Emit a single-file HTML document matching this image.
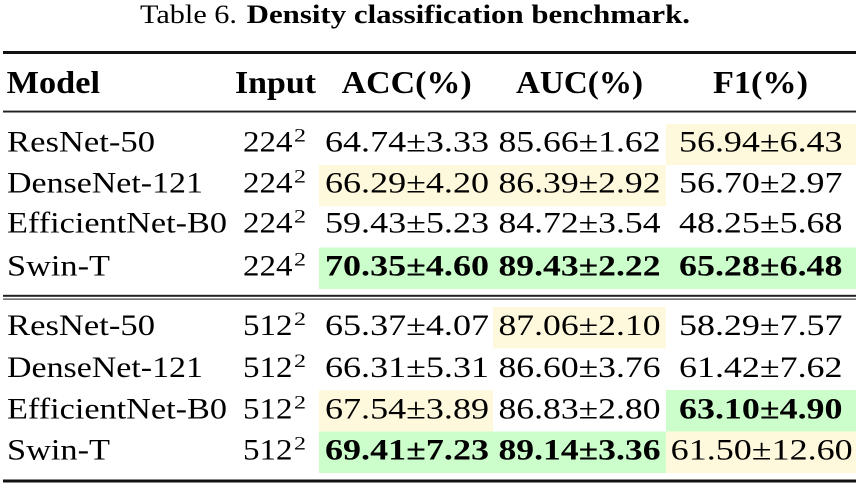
<!DOCTYPE html>
<html>
<head>
<meta charset="utf-8">
<style>
  html,body{margin:0;padding:0;background:#fff;}
  svg{display:block;font-family:"Liberation Serif","Times New Roman",Times,"Nimbus Roman","DejaVu Serif Condensed",serif;}
  text{font-family:"Liberation Serif","Times New Roman",Times,"Nimbus Roman","DejaVu Serif Condensed",serif;fill:#000;}
  .b{font-weight:bold;}
</style>
</head>
<body>
<svg width="856" height="486" viewBox="0 0 856 486" xmlns="http://www.w3.org/2000/svg">
  <!-- highlights -->
  <g>
    <rect x="666" y="124" width="190" height="41" fill="#fef9dc"/>
    <rect x="319" y="165" width="347" height="41" fill="#fef9dc"/>
    <rect x="319" y="247.5" width="537" height="41.5" fill="#ccfecc"/>
    <rect x="493" y="307" width="173" height="41.5" fill="#fef9dc"/>
    <rect x="319" y="390" width="174" height="41.5" fill="#fef9dc"/>
    <rect x="666" y="390" width="190" height="41.5" fill="#ccfecc"/>
    <rect x="319" y="431.5" width="347" height="41.5" fill="#ccfecc"/>
    <rect x="666" y="431.5" width="190" height="41.5" fill="#fef9dc"/>
  </g>

  <!-- rules -->
  <rect x="3" y="51" width="853" height="3" fill="#111"/>
  <rect x="3" y="110.6" width="853" height="1.9" fill="#222"/>
  <rect x="3" y="294.8" width="853" height="2" fill="#222"/>
  <rect x="3" y="298.4" width="853" height="1.5" fill="#666"/>
  <rect x="3" y="479.5" width="853" height="3" fill="#111"/>

  <!-- title -->
  <text x="140" y="23" font-size="26" textLength="97" lengthAdjust="spacingAndGlyphs">Table 6.</text>
  <text x="246.7" y="23" font-size="26" class="b" textLength="443.3" lengthAdjust="spacingAndGlyphs">Density classification benchmark.</text>

  <!-- header -->
  <g font-size="32">
    <text x="6.7" y="93" class="b" textLength="93.3" lengthAdjust="spacingAndGlyphs">Model</text>
    <text x="235" y="93" class="b" textLength="81" lengthAdjust="spacingAndGlyphs">Input</text>
    <text x="341.7" y="93" class="b" textLength="130" lengthAdjust="spacingAndGlyphs">ACC(%)</text>
    <text x="516" y="93" class="b" textLength="127" lengthAdjust="spacingAndGlyphs">AUC(%)</text>
    <text x="713" y="93" class="b" textLength="95" lengthAdjust="spacingAndGlyphs">F1(%)</text>
  </g>

  <!-- block 1 -->
  <g font-size="30">
    <text x="7" y="151.7" textLength="148" lengthAdjust="spacingAndGlyphs">ResNet-50</text>
    <text x="243" y="151.7" textLength="49.5" lengthAdjust="spacingAndGlyphs">224</text>
    <text x="294" y="141.7" font-size="19" textLength="12" lengthAdjust="spacingAndGlyphs">2</text>
    <text x="325" y="151.7" textLength="164" lengthAdjust="spacingAndGlyphs">64.74±3.33</text>
    <text x="498.5" y="151.7" textLength="162" lengthAdjust="spacingAndGlyphs">85.66±1.62</text>
    <text x="679" y="151.7" textLength="163.5" lengthAdjust="spacingAndGlyphs">56.94±6.43</text>

    <text x="7" y="192.7" textLength="196" lengthAdjust="spacingAndGlyphs">DenseNet-121</text>
    <text x="243" y="192.7" textLength="49.5" lengthAdjust="spacingAndGlyphs">224</text>
    <text x="294" y="182.7" font-size="19" textLength="12" lengthAdjust="spacingAndGlyphs">2</text>
    <text x="325" y="192.7" textLength="164" lengthAdjust="spacingAndGlyphs">66.29±4.20</text>
    <text x="498.5" y="192.7" textLength="162" lengthAdjust="spacingAndGlyphs">86.39±2.92</text>
    <text x="679" y="192.7" textLength="163.5" lengthAdjust="spacingAndGlyphs">56.70±2.97</text>

    <text x="7" y="232.7" textLength="220" lengthAdjust="spacingAndGlyphs">EfficientNet-B0</text>
    <text x="243" y="232.7" textLength="49.5" lengthAdjust="spacingAndGlyphs">224</text>
    <text x="294" y="222.7" font-size="19" textLength="12" lengthAdjust="spacingAndGlyphs">2</text>
    <text x="325" y="232.7" textLength="164" lengthAdjust="spacingAndGlyphs">59.43±5.23</text>
    <text x="498.5" y="232.7" textLength="162" lengthAdjust="spacingAndGlyphs">84.72±3.54</text>
    <text x="679" y="232.7" textLength="163.5" lengthAdjust="spacingAndGlyphs">48.25±5.68</text>

    <text x="7" y="275.5" textLength="103" lengthAdjust="spacingAndGlyphs">Swin-T</text>
    <text x="243" y="275.5" textLength="49.5" lengthAdjust="spacingAndGlyphs">224</text>
    <text x="294" y="265.5" font-size="19" textLength="12" lengthAdjust="spacingAndGlyphs">2</text>
    <text x="325" y="275.5" class="b" textLength="164" lengthAdjust="spacingAndGlyphs">70.35±4.60</text>
    <text x="498.5" y="275.5" class="b" textLength="162" lengthAdjust="spacingAndGlyphs">89.43±2.22</text>
    <text x="679" y="275.5" class="b" textLength="163.5" lengthAdjust="spacingAndGlyphs">65.28±6.48</text>
  </g>

  <!-- block 2 -->
  <g font-size="30">
    <text x="7" y="335" textLength="148" lengthAdjust="spacingAndGlyphs">ResNet-50</text>
    <text x="243" y="335" textLength="49.5" lengthAdjust="spacingAndGlyphs">512</text>
    <text x="294" y="325" font-size="19" textLength="12" lengthAdjust="spacingAndGlyphs">2</text>
    <text x="325" y="335" textLength="164" lengthAdjust="spacingAndGlyphs">65.37±4.07</text>
    <text x="498.5" y="335" textLength="162" lengthAdjust="spacingAndGlyphs">87.06±2.10</text>
    <text x="679" y="335" textLength="163.5" lengthAdjust="spacingAndGlyphs">58.29±7.57</text>

    <text x="7" y="377" textLength="196" lengthAdjust="spacingAndGlyphs">DenseNet-121</text>
    <text x="243" y="377" textLength="49.5" lengthAdjust="spacingAndGlyphs">512</text>
    <text x="294" y="367" font-size="19" textLength="12" lengthAdjust="spacingAndGlyphs">2</text>
    <text x="325" y="377" textLength="164" lengthAdjust="spacingAndGlyphs">66.31±5.31</text>
    <text x="498.5" y="377" textLength="162" lengthAdjust="spacingAndGlyphs">86.60±3.76</text>
    <text x="679" y="377" textLength="163.5" lengthAdjust="spacingAndGlyphs">61.42±7.62</text>

    <text x="7" y="418.3" textLength="220" lengthAdjust="spacingAndGlyphs">EfficientNet-B0</text>
    <text x="243" y="418.3" textLength="49.5" lengthAdjust="spacingAndGlyphs">512</text>
    <text x="294" y="408.3" font-size="19" textLength="12" lengthAdjust="spacingAndGlyphs">2</text>
    <text x="325" y="418.3" textLength="164" lengthAdjust="spacingAndGlyphs">67.54±3.89</text>
    <text x="498.5" y="418.3" textLength="162" lengthAdjust="spacingAndGlyphs">86.83±2.80</text>
    <text x="679" y="418.3" class="b" textLength="163.5" lengthAdjust="spacingAndGlyphs">63.10±4.90</text>

    <text x="7" y="459.5" textLength="103" lengthAdjust="spacingAndGlyphs">Swin-T</text>
    <text x="243" y="459.5" textLength="49.5" lengthAdjust="spacingAndGlyphs">512</text>
    <text x="294" y="449.5" font-size="19" textLength="12" lengthAdjust="spacingAndGlyphs">2</text>
    <text x="325" y="459.5" class="b" textLength="164" lengthAdjust="spacingAndGlyphs">69.41±7.23</text>
    <text x="498.5" y="459.5" class="b" textLength="162" lengthAdjust="spacingAndGlyphs">89.14±3.36</text>
    <text x="670.7" y="459.5" textLength="182" lengthAdjust="spacingAndGlyphs">61.50±12.60</text>
  </g>
</svg>
</body>
</html>
